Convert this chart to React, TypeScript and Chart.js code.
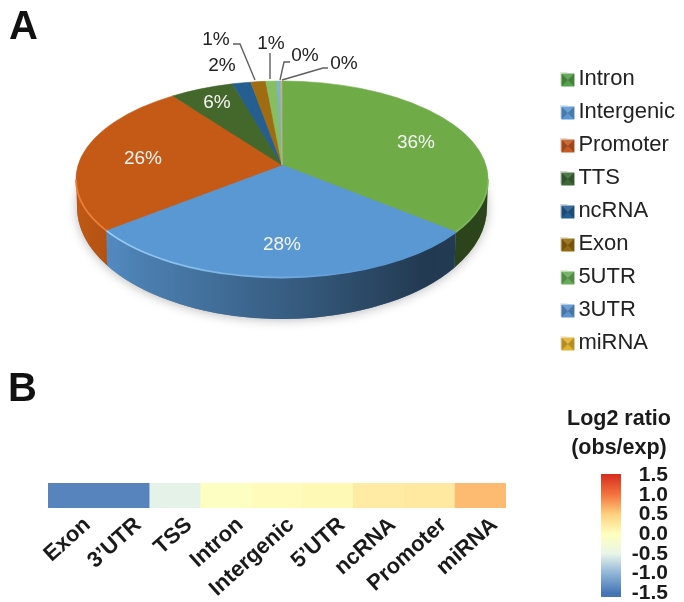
import React, { useEffect, useRef } from "react";
import { Chart, registerables } from "chart.js";

Chart.register(...registerables);

const FONT = '"Liberation Sans", Arial, sans-serif';

// ---------- data ----------
const sliceLabels = ["Intron", "Intergenic", "Promoter", "TTS", "ncRNA", "Exon", "5UTR", "3UTR", "miRNA"];
const sliceValues = [36.2, 27.9, 26.0, 5.6, 1.6, 1.3, 1.0, 0.3, 0.1];
const sliceColors = ["#6fab47", "#5a98d4", "#c45a15", "#44682b", "#255e91", "#a06c12", "#86bf63", "#7cafdd", "#c9b66a"];
const swatchColors = ["#55a04a", "#5a98d4", "#c45a25", "#3f6a38", "#255e91", "#94690f", "#68ad5a", "#5b93cc", "#e0b030"];

const heatCategories = ["Exon", "3\u2019UTR", "TSS", "Intron", "Intergenic", "5\u2019UTR", "ncRNA", "Promoter", "miRNA"];
const heatValues = [-1.38, -1.38, -0.52, -0.04, 0.03, 0.07, 0.22, 0.24, 0.62];

const scaleTicks = [1.5, 1.0, 0.5, 0.0, -0.5, -1.0, -1.5];
const scaleStops = [-1.5, -1.0, -0.5, 0, 0.5, 1.0, 1.5];
const scaleColors = ["#4575b4", "#8fb5d8", "#e8f5e8", "#ffffbf", "#fed27f", "#f4743f", "#d7301f"];

// ---------- pie geometry / label layout ----------
const P = { cx: 282, cy: 179, rx: 206, ry: 98, ay: 165, k: 0.454, bcy: 207, brx: 205, bry: 112 };
const inLabelPos = [[416, 143], [282, 245], [143, 159], [217, 103], [222, 66], [216, 40], [271, 44], [305, 56], [344, 64]];
const leaderLines = [
  null, null, null, null, null,
  [[233, 44], [240, 44], [255, 80]],
  [[270, 53], [270, 79]],
  [[290, 62], [284, 62], [280, 80]],
  [[328, 68], [323, 68], [282, 80]],
];
const rims = ["#7fb85c", "#9bcdf5", "#ea7f3c"];

function hexRgb(h: string) {
  return [1, 3, 5].map((i) => parseInt(h.slice(i, i + 2), 16));
}
function valueColor(v: number) {
  let i = 0;
  while (i < scaleStops.length - 2 && v > scaleStops[i + 1]) i++;
  const f = Math.min(1, Math.max(0, (v - scaleStops[i]) / (scaleStops[i + 1] - scaleStops[i])));
  const a = hexRgb(scaleColors[i]);
  const b = hexRgb(scaleColors[i + 1]);
  return `rgb(${a.map((c, j) => Math.round(c + (b[j] - c) * f)).join(",")})`;
}

function paramFor(theta: number) {
  const dx = Math.cos(theta);
  const dy = P.k * Math.sin(theta);
  const oy = P.ay - P.cy;
  const A = (dx * dx) / (P.rx * P.rx) + (dy * dy) / (P.ry * P.ry);
  const B = (2 * oy * dy) / (P.ry * P.ry);
  const C = (oy * oy) / (P.ry * P.ry) - 1;
  const s = (-B + Math.sqrt(B * B - 4 * A * C)) / (2 * A);
  return Math.atan2((oy + s * dy) / P.ry, (s * dx) / P.rx);
}

const pie3d = {
  id: "pie3d",
  beforeDatasetDraw(chart: any) {
    const ctx = chart.ctx;
    const arcs = chart.getDatasetMeta(0).data;
    const ranges: number[][] = [];
    let prev = -Math.PI / 2;
    arcs.forEach((arc: any) => {
      let t1 = paramFor(arc.endAngle);
      while (t1 < prev - 1e-6) t1 += Math.PI * 2;
      ranges.push([prev, t1]);
      prev = t1;
    });
    // ground shadow
    ctx.save();
    ctx.shadowColor = "rgba(0,0,0,0.28)";
    ctx.shadowBlur = 11;
    ctx.shadowOffsetY = 1;
    ctx.fillStyle = "#888";
    ctx.beginPath();
    ctx.ellipse(P.cx, P.bcy, P.brx, P.bry, 0, 0, Math.PI * 2);
    ctx.fill();
    ctx.restore();
    // walls
    const shade = ctx.createLinearGradient(P.cx - P.rx, 0, P.cx + P.rx, 0);
    shade.addColorStop(0, "rgba(0,0,0,0.02)");
    shade.addColorStop(0.15, "rgba(0,0,0,0.16)");
    shade.addColorStop(0.5, "rgba(0,0,0,0.38)");
    shade.addColorStop(0.85, "rgba(0,0,0,0.62)");
    shade.addColorStop(1, "rgba(0,0,0,0.6)");
    ranges.forEach(([a0, b0], i) => {
      const a = Math.max(a0, 0);
      const b = Math.min(b0, Math.PI);
      if (b <= a) return;
      ctx.beginPath();
      ctx.ellipse(P.cx, P.cy, P.rx, P.ry, 0, a, b);
      ctx.ellipse(P.cx, P.bcy, P.brx, P.bry, 0, b, a, true);
      ctx.closePath();
      ctx.fillStyle = sliceColors[i];
      ctx.fill();
      ctx.fillStyle = shade;
      ctx.fill();
    });
    // top face
    ranges.forEach(([a, b], i) => {
      ctx.beginPath();
      ctx.moveTo(P.cx, P.ay);
      ctx.ellipse(P.cx, P.cy, P.rx, P.ry, 0, a, b);
      ctx.closePath();
      ctx.fillStyle = sliceColors[i];
      ctx.strokeStyle = sliceColors[i];
      ctx.lineWidth = 0.6;
      ctx.fill();
      ctx.stroke();
    });
    // bevel rim: bright on the left of the front edge, fading to the right
    const fade = ctx.createLinearGradient(110, 0, 370, 0);
    fade.addColorStop(0, rims[1]);
    fade.addColorStop(1, sliceColors[1]);
    ranges.forEach(([a0, b0], i) => {
      const a = Math.max(a0, 0);
      const b = Math.min(b0, Math.PI);
      if (b <= a || !rims[i]) return;
      ctx.beginPath();
      ctx.ellipse(P.cx, P.cy + 0.5, P.rx, P.ry, 0, a, b);
      ctx.strokeStyle = i === 1 ? fade : rims[i];
      ctx.lineWidth = 1.8;
      ctx.stroke();
    });
    return false;
  },
  afterDatasetsDraw(chart: any) {
    const ctx = chart.ctx;
    ctx.save();
    ctx.strokeStyle = "#5f5f5f";
    ctx.lineWidth = 1.4;
    leaderLines.forEach((ln) => {
      if (!ln) return;
      ctx.beginPath();
      ln.forEach(([x, y], i) => (i ? ctx.lineTo(x, y) : ctx.moveTo(x, y)));
      ctx.stroke();
    });
    ctx.font = `19px ${FONT}`;
    ctx.textAlign = "center";
    ctx.textBaseline = "middle";
    sliceValues.forEach((v, i) => {
      ctx.fillStyle = i < 4 ? "#f4f4f4" : "#222222";
      ctx.fillText(`${Math.round(v)}%`, inLabelPos[i][0], inLabelPos[i][1]);
    });
    ctx.restore();
  },
  afterDraw(chart: any) {
    const ctx = chart.ctx;
    const boxes = chart.legend.legendHitBoxes;
    const sw = 13;
    boxes.forEach((h: any, i: number) => {
      const x = h.left + 1;
      const y = h.top + h.height / 2 - sw / 2 + 1;
      ctx.save();
      ctx.fillStyle = "#fff";
      ctx.fillRect(h.left, y - 1, sw + 2, sw + 2);
      ctx.fillStyle = swatchColors[i];
      ctx.fillRect(x, y, sw, sw);
      const cx = x + sw / 2;
      const cy = y + sw / 2;
      ctx.fillStyle = "rgba(0,0,0,0.2)";
      ctx.beginPath();
      ctx.moveTo(x, y);
      ctx.lineTo(cx, cy);
      ctx.lineTo(x, y + sw);
      ctx.closePath();
      ctx.moveTo(x + sw, y);
      ctx.lineTo(cx, cy);
      ctx.lineTo(x + sw, y + sw);
      ctx.closePath();
      ctx.fill();
      ctx.fillStyle = "rgba(255,255,255,0.1)";
      ctx.beginPath();
      ctx.moveTo(x, y);
      ctx.lineTo(cx, cy);
      ctx.lineTo(x + sw, y);
      ctx.closePath();
      ctx.fill();
      ctx.restore();
    });
  },
};

function makePie(c: HTMLCanvasElement) {
  return new Chart(c, {
    type: "pie",
    data: { labels: sliceLabels, datasets: [{ data: sliceValues, backgroundColor: sliceColors, borderWidth: 0 }] },
    plugins: [pie3d],
    options: {
      animation: false,
      responsive: false,
      layout: { padding: { top: 57, right: -1 } },
      plugins: {
        tooltip: { enabled: false },
        legend: {
          position: "right",
          align: "start",
          labels: { boxWidth: 7, boxHeight: 13, padding: 11, color: "#222222", font: { family: FONT, size: 22 } },
        },
      },
    },
  } as any);
}

function makeHeat(c: HTMLCanvasElement) {
  return new Chart(c, {
    type: "bar",
    data: {
      labels: heatCategories,
      datasets: [{
        data: heatValues.map(() => [0, 1]),
        backgroundColor: heatValues.map(valueColor),
        barPercentage: 1,
        categoryPercentage: 1,
        borderWidth: 0,
      }],
    },
    options: {
      animation: false,
      responsive: false,
      layout: { padding: { left: 48, right: 24, top: 13, bottom: 0 } },
      plugins: { legend: { display: false }, tooltip: { enabled: false } },
      scales: {
        y: { display: false, min: 0, max: 1 },
        x: {
          afterFit(s: any) {
            s.height = 94;
            s.paddingLeft = 0;
            s.paddingRight = 0;
          },
          border: { display: false },
          grid: { display: false, drawTicks: false },
          ticks: {
            autoSkip: false,
            minRotation: 42,
            maxRotation: 42,
            labelOffset: 14,
            padding: 4,
            color: "#1a1a1a",
            font: { family: FONT, size: 22, weight: "bold" },
          },
        },
      },
    },
  } as any);
}

function makeScale(c: HTMLCanvasElement) {
  return new Chart(c, {
    type: "bar",
    data: {
      labels: ["Log2 ratio"],
      datasets: [{
        data: [[-1.6, 1.53]],
        barPercentage: 1,
        categoryPercentage: 1,
        borderWidth: 0,
        backgroundColor(ctx: any) {
          const { chart } = ctx;
          const y = chart.scales.y;
          if (!chart.chartArea || !y) return scaleColors[0];
          const g = chart.ctx.createLinearGradient(0, y.getPixelForValue(1.5), 0, y.getPixelForValue(-1.5));
          scaleStops.forEach((s, i) => g.addColorStop(1 - (s + 1.5) / 3, scaleColors[i]));
          return g;
        },
      }],
    },
    options: {
      animation: false,
      responsive: false,
      layout: { padding: { left: 45, right: 14, top: 74, bottom: 5 } },
      plugins: { legend: { display: false }, tooltip: { enabled: false } },
      scales: {
        x: { display: false },
        y: {
          position: "right",
          min: -1.6,
          max: 1.53,
          afterBuildTicks(s: any) {
            s.ticks = scaleTicks.map((value) => ({ value }));
          },
          afterFit(s: any) {
            s.width = 47;
            s.paddingTop = 0;
            s.paddingBottom = 0;
          },
          border: { display: false },
          grid: { display: false, drawTicks: false },
          ticks: {
            autoSkip: false,
            crossAlign: "far",
            padding: 10,
            color: "#1a1a1a",
            font: { family: FONT, size: 21, weight: "bold", lineHeight: 1 },
            callback: (v: any) => Number(v).toFixed(1),
          },
        },
      },
    },
  } as any);
}

const letter = (left: number, top: number): React.CSSProperties => ({
  position: "absolute",
  left,
  top,
  font: `bold 40px ${FONT}`,
  lineHeight: "40px",
  color: "#111",
});

const blur: React.CSSProperties = { position: "absolute", filter: "blur(0.45px)" };

export default function App() {
  const a = useRef<HTMLCanvasElement>(null);
  const b = useRef<HTMLCanvasElement>(null);
  const c = useRef<HTMLCanvasElement>(null);
  useEffect(() => {
    const charts = [makePie(a.current!), makeHeat(b.current!), makeScale(c.current!)];
    return () => charts.forEach((ch) => ch.destroy());
  }, []);
  return (
    <div style={{ position: "fixed", left: 0, top: 0, width: 684, height: 602, background: "#fff", overflow: "hidden" }}>
      <canvas ref={a} width={684} height={365} style={{ ...blur, left: 0, top: 0 }} />
      <canvas ref={b} width={530} height={132} style={{ ...blur, left: 0, top: 470 }} />
      <canvas ref={c} width={126} height={202} style={{ ...blur, left: 556, top: 400 }} />
      <div style={letter(9, 5)}>A</div>
      <div style={letter(8, 367)}>B</div>
      <div style={{ position: "absolute", left: 550, top: 404, width: 138, textAlign: "center", font: `bold 21.5px ${FONT}`, lineHeight: "29px", color: "#1a1a1a" }}>
        Log2 ratio<br />(obs/exp)
      </div>
    </div>
  );
}
